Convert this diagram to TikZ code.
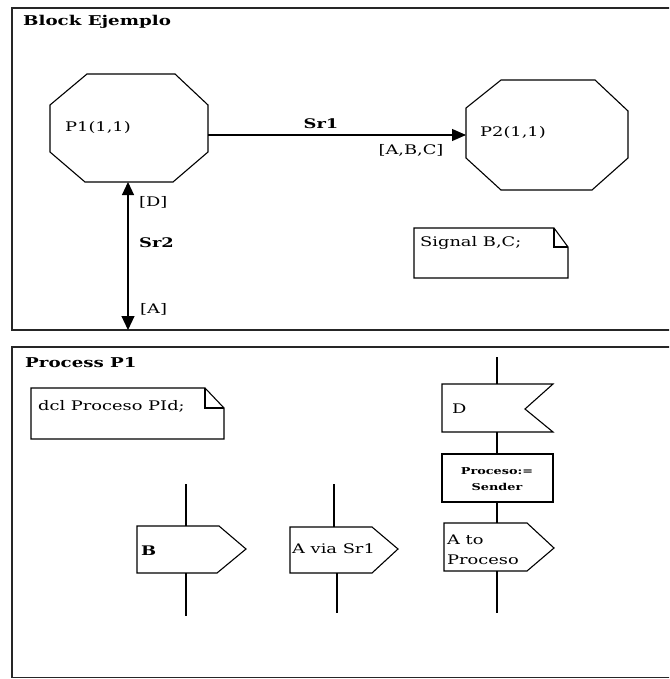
\documentclass[tikz,border=0pt]{standalone}
\usepackage{fontspec}
\setmainfont{DejaVu Serif}[FakeStretch=1.35]
\usetikzlibrary{arrows.meta}
\begin{document}
\begin{tikzpicture}[x=1pt,y=-1pt,
  frame/.style={draw=black!85,line width=1.3pt},
  shp/.style={draw,line width=1.1pt,line join=miter},
  con/.style={draw,line width=1.1pt},
  tip/.style={-{Triangle[length=14pt,width=12pt]}},
  lbl/.style={inner sep=0pt,font=\fontsize{13.2}{15}\selectfont},
  blbl/.style={inner sep=0pt,font=\fontsize{13.2}{15}\selectfont\bfseries},
  ttl/.style={inner sep=0pt,anchor=west,font=\fontsize{13.5}{15}\selectfont\bfseries}]
\useasboundingbox (0,0) rectangle (669,679);
\clip (0,0) rectangle (669,679);
\fill[white] (0,0) rectangle (669,679);
% frames
\draw[frame] (690,8) -- (12,8) -- (12,330) -- (690,330);
\draw[frame] (690,347) -- (12,347) -- (12,677.5) -- (690,677.5);
\node[ttl] (tblock) at (23,22) {Block Ejemplo};
\node[ttl] (tproc) at (25,363) {Process P1};
% octagons
\draw[shp] (87,74) -- (175,74) -- (208,105) -- (208,152) -- (173,182) -- (85,182) -- (50,152) -- (50,105) -- cycle;
\draw[shp] (501,80) -- (595,80) -- (628,111) -- (628,158) -- (592,190) -- (501,190) -- (466,158) -- (466,108) -- cycle;
\node[lbl,anchor=west] (p1) at (65,128) {P1(1,1)};
\node[lbl,anchor=west] (p2) at (480,133) {P2(1,1)};
\coordinate (p1e) at (208,135);
\coordinate (p2w) at (466,135);
\coordinate (p1s) at (128,182);
\coordinate (blk) at (128,330);
\draw[con,tip] (p1e) -- (p2w);
\draw[con,{Triangle[length=13pt,width=12pt]}-{Triangle[length=14pt,width=13pt]}] (p1s) -- (blk);
\node[blbl] (sr1) at (321,124) {Sr1};
\node[lbl] (abc) at (411,150) {[A,B,C]};
\node[lbl,anchor=west] (dl) at (139,202) {[D]};
\node[blbl,anchor=west] (sr2) at (139,243) {Sr2};
\node[lbl,anchor=west] (al) at (140,309) {[A]};
% notes
\draw[shp] (414,228) -- (554,228) -- (568,247) -- (568,278) -- (414,278) -- cycle;
\draw[shp] (554,228) -- (554,247) -- (568,247);
\node[lbl,anchor=west] (sig) at (420,243) {Signal B,C;};
\draw[shp] (31,388) -- (205,388) -- (224,408) -- (224,439) -- (31,439) -- cycle;
\draw[shp] (205,388) -- (205,408) -- (224,408);
\node[lbl,anchor=west] (dcl) at (38,406) {dcl Proceso PId;};
% output B
\draw[shp] (137,526) -- (219,526) -- (246,549) -- (217,573) -- (137,573) -- cycle;
\node[blbl,anchor=west] (ob) at (141,551) {B};
\coordinate (obt) at (186,526); \coordinate (obb) at (186,573);
\coordinate (obu) at (186,484); \coordinate (obd) at (186,616);
\draw[con] (obu) -- (obt); \draw[con] (obb) -- (obd);
% output A via Sr1
\draw[shp] (290,527) -- (372,527) -- (398,549) -- (372,573) -- (290,573) -- cycle;
\node[lbl,anchor=west] (oa) at (292,549) {A via Sr1};
\coordinate (oat) at (334,527); \coordinate (oab) at (337,573);
\coordinate (oau) at (334,484); \coordinate (oad) at (337,613);
\draw[con] (oau) -- (oat); \draw[con] (oab) -- (oad);
% right column
\coordinate (ctop) at (497,357);
\draw[shp] (442,384) -- (553,384) -- (525,409) -- (553,432) -- (442,432) -- cycle;
\node[lbl,anchor=west] (id) at (452,409) {D};
\coordinate (idt) at (497,384); \coordinate (idb) at (497,432);
\draw[shp] (442,454) rectangle (553,502);
\node[inner sep=0pt,align=center,font=\fontsize{9.5}{16}\selectfont\bfseries] (task) at (497,479) {Proceso:=\\Sender};
\coordinate (tt) at (497,454); \coordinate (tb) at (497,502);
\draw[shp] (444,523) -- (527,523) -- (554,548) -- (527,571) -- (444,571) -- cycle;
\node[inner sep=0pt,anchor=west,align=left,font=\fontsize{13.2}{20}\selectfont] (oap) at (447,550) {A to\\Proceso};
\coordinate (ot) at (497,523); \coordinate (ob2) at (497,571);
\coordinate (cbot) at (497,613);
\draw[con] (ctop) -- (idt);
\draw[con] (idb) -- (tt);
\draw[con] (tb) -- (ot);
\draw[con] (ob2) -- (cbot);
\end{tikzpicture}
\end{document}
